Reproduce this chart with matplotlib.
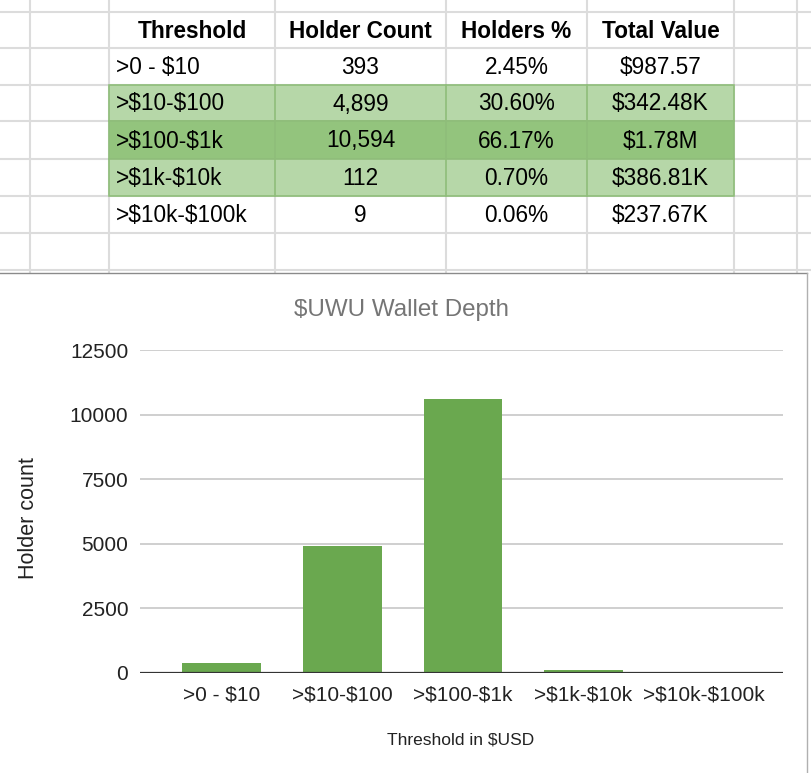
import matplotlib
matplotlib.use("Agg")
import matplotlib.pyplot as plt
from matplotlib.patches import Rectangle

plt.rcParams['font.family'] = ['Liberation Sans', 'DejaVu Sans']
plt.rcParams['text.parse_math'] = False  # lots of literal $ signs

# data
thresholds = ['>0 - $10', '>$10-$100', '>$100-$1k', '>$1k-$10k', '>$10k-$100k']
holder_count = [393, 4899, 10594, 112, 9]
holder_pct = [2.45, 30.60, 66.17, 0.70, 0.06]
total_value = ['$987.57', '$342.48K', '$1.78M', '$386.81K', '$237.67K']
headers = ['Threshold', 'Holder Count', 'Holders %', 'Total Value']
y_ticks = [0, 2500, 5000, 7500, 10000, 12500]

W, H = 811, 773
fig = plt.figure(figsize=(W / 100, H / 100), dpi=100)

# spreadsheet background, pixel coordinates
bg = fig.add_axes([0, 0, 1, 1])
bg.set_xlim(0, W)
bg.set_ylim(H, 0)
bg.axis('off')

col_x = [30, 109, 275, 446, 587, 734, 797]
row_y = [12, 48, 85, 121, 159, 196, 233, 270]
grid_col = '#dcdcdc'

for x in col_x:
    bg.plot([x, x], [0, H], color=grid_col, lw=1.5, zorder=1)
for y in row_y:
    bg.plot([0, W], [y, y], color=grid_col, lw=1.5, zorder=1)

# coloured rows
light = '#b6d7a8'
dark = '#93c47d'
fills = [None, light, dark, light, None]
for i, fc in enumerate(fills):
    if fc is None:
        continue
    y0, y1 = row_y[i + 1], row_y[i + 2]
    bg.add_patch(Rectangle((col_x[1], y0), col_x[5] - col_x[1], y1 - y0,
                           facecolor=fc, edgecolor='#8fbd7a', lw=1.2, zorder=2))
    for x in col_x[2:5]:
        bg.plot([x, x], [y0, y1], color='#8fbd7a', lw=1.2, zorder=3)

centers = [(col_x[j] + col_x[j + 1]) / 2 for j in range(1, 5)]
fs_tab = 16.3
for j, h in enumerate(headers):
    bg.text(centers[j], (row_y[0] + row_y[1]) / 2 + 1, h, ha='center', va='center',
            fontsize=fs_tab, fontweight='bold', color='black', zorder=4)

for i in range(len(thresholds)):
    yc = (row_y[i + 1] + row_y[i + 2]) / 2 + 1
    bg.text(col_x[1] + 7, yc, thresholds[i], ha='left', va='center',
            fontsize=fs_tab, color='black', zorder=4)
    bg.text(centers[1], yc, f"{holder_count[i]:,}", ha='center', va='center',
            fontsize=fs_tab, color='black', zorder=4)
    bg.text(centers[2], yc, f"{holder_pct[i]:.2f}%", ha='center', va='center',
            fontsize=fs_tab, color='black', zorder=4)
    bg.text(centers[3], yc, total_value[i], ha='center', va='center',
            fontsize=fs_tab, color='black', zorder=4)

# chart box over the grid (border only on top and right)
bg.add_patch(Rectangle((-2, 273), 809, H - 273 + 5, facecolor='white',
                       edgecolor='none', zorder=5))
bg.plot([0, 807], [273, 273], color='#8a8a8a', lw=1.0, zorder=6)
bg.plot([807, 807], [273, H], color='#b0b0b0', lw=1.0, zorder=6)

# the chart itself
ax = fig.add_axes([140 / W, 1 - 673 / H, (783 - 140) / W, (673 - 350) / H])
ax.set_zorder(10)
ax.patch.set_alpha(0)

x = list(range(len(thresholds)))
ax.bar(x, holder_count, width=0.655, color='#6aa84f', zorder=3)

ax.set_xlim(-0.68, 4.655)
ax.set_ylim(0, 12500)
ax.set_yticks(y_ticks)
ax.set_yticklabels([str(v) for v in y_ticks])
ax.set_xticks(x)
ax.set_xticklabels(thresholds)

for v in y_ticks[1:]:
    ax.axhline(v, color='#cccccc', lw=1.3, zorder=1)
ax.axhline(0, color='#333333', lw=1.6, zorder=4)

for s in ax.spines.values():
    s.set_visible(False)
ax.tick_params(axis='both', length=0, labelsize=15, colors='#222222')
ax.tick_params(axis='x', pad=9)
ax.tick_params(axis='y', pad=8.5)

ax.set_xlabel('Threshold in $USD', fontsize=12.5, color='#222222')
ax.xaxis.set_label_coords(0.499, -0.207)
ax.xaxis.label.set_va('center')
ax.set_ylabel('Holder count', fontsize=15.5, color='#222222')
ax.yaxis.set_label_coords(-0.174, 0.48)
ax.yaxis.label.set_va('center')

fig.text(401 / W, 1 - 310 / H, '$UWU Wallet Depth', ha='center', va='center',
         fontsize=17.4, color='#757575', zorder=20)

plt.savefig('out.png', dpi=100)
